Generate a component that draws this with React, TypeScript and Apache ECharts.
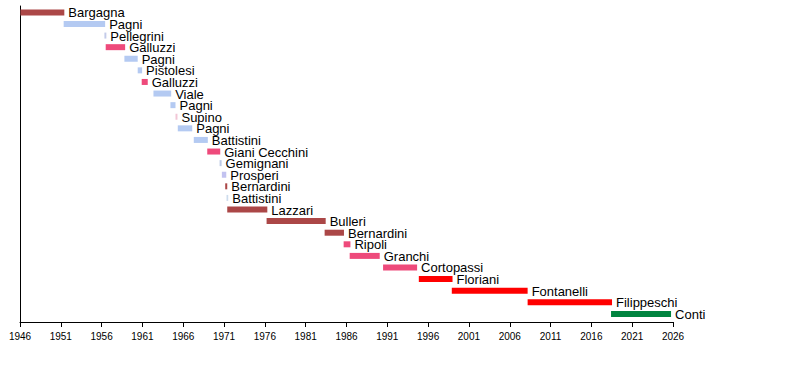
import React, { useEffect, useRef } from "react";
import * as echarts from "echarts";

// Mayors, in order (top to bottom)
const names: string[] = [
  "Bargagna", "Pagni", "Pellegrini", "Galluzzi", "Pagni", "Pistolesi", "Galluzzi",
  "Viale", "Pagni", "Supino", "Pagni", "Battistini", "Giani Cecchini", "Gemignani",
  "Prosperi", "Bernardini", "Battistini", "Lazzari", "Bulleri", "Bernardini",
  "Ripoli", "Granchi", "Cortopassi", "Floriani", "Fontanelli", "Filippeschi", "Conti",
];

// Term start / end (decimal years)
const termStart: number[] = [
  1946.05, 1951.35, 1956.34, 1956.5, 1958.79, 1960.42, 1960.91,
  1962.35, 1964.43, 1965.05, 1965.33, 1967.29, 1968.94, 1970.45,
  1970.73, 1971.14, 1971.3, 1971.39, 1976.21, 1983.32,
  1985.65, 1986.39, 1990.48, 1994.86, 1998.9, 2008.19, 2018.41,
];
const termEnd: number[] = [
  1951.43, 1956.43, 1956.58, 1958.88, 1960.42, 1960.96, 1961.65,
  1964.52, 1965.05, 1965.29, 1967.1, 1969.01, 1970.53, 1970.7,
  1971.27, 1971.39, 1971.51, 1976.3, 1983.45, 1985.69,
  1986.48, 1990.07, 1994.65, 1998.99, 2008.19, 2018.53, 2025.76,
];

// Group of each term (drives the colour)
const groups: string[] = [
  "DC", "COMM", "COMM2", "PSI", "COMM", "COMM", "PSI",
  "COMM", "COMM", "SUP", "COMM", "COMM", "PSI", "GEM",
  "PROS", "DC", "BAT", "DC", "DC", "DC",
  "PSI", "PSI", "PSI", "PDS", "PDS", "PDS", "LEGA",
];

const axisStartYear = 1946;
const axisEndYear = 2026;
const tickStep = 5;

const palette: Record<string, string> = {
  DC: "#ab4747",
  COMM: "#b4caf2",
  COMM2: "#c3cbe9",
  PSI: "#ee4a7b",
  SUP: "#f2c6d6",
  GEM: "#bccae6",
  PROS: "#c2c2f0",
  BAT: "#cddced",
  PDS: "#ff0000",
  LEGA: "#00843f",
};

export default function App() {
  const ref = useRef<HTMLDivElement>(null);

  useEffect(() => {
    if (!ref.current) return;
    const chart = echarts.init(ref.current, undefined, { renderer: "svg" });

    const data = names.map((n, i) => ({
      value: [termStart[i] - axisStartYear, termEnd[i] - axisStartYear, i],
      name: n,
      itemStyle: { color: palette[groups[i]] },
    }));

    chart.setOption({
      animation: false,
      grid: { left: 20, right: 127, top: 6, bottom: 50, containLabel: false },
      xAxis: {
        type: "value",
        position: "bottom",
        min: 0,
        max: axisEndYear - axisStartYear,
        interval: tickStep,
        axisLine: { show: true, onZero: false, lineStyle: { color: "#000", width: 1 } },
        axisTick: { show: true, length: 5, lineStyle: { color: "#000" } },
        axisLabel: {
          color: "#000",
          fontSize: 10,
          fontFamily: "Liberation Sans",
          margin: 9,
          formatter: (v: number) => String(v + axisStartYear),
        },
        splitLine: { show: false },
      },
      yAxis: {
        type: "value",
        inverse: true,
        min: -0.55,
        max: 26.7,
        axisLine: { show: true, onZero: false, lineStyle: { color: "#000", width: 1 } },
        axisTick: { show: false },
        axisLabel: { show: false },
        splitLine: { show: false },
      },
      series: [
        {
          type: "custom",
          clip: false,
          encode: { x: [0, 1], y: 2 },
          data,
          renderItem: (params: any, api: any) => {
            const i = params.dataIndex;
            const s = api.coord([api.value(0), api.value(2)]);
            const e = api.coord([api.value(1), api.value(2)]);
            const h = 6;
            return {
              type: "group",
              children: [
                {
                  type: "rect",
                  shape: { x: s[0], y: s[1] - h / 2, width: Math.max(e[0] - s[0], 1.5), height: h },
                  style: { fill: palette[groups[i]] },
                },
                {
                  type: "text",
                  x: e[0] + 4,
                  y: s[1] + 0.5,
                  style: {
                    text: names[i],
                    fill: "#000",
                    fontSize: 13,
                    fontFamily: "Liberation Sans",
                    align: "left",
                    verticalAlign: "middle",
                  },
                },
              ],
            };
          },
        },
      ],
    });

    return () => chart.dispose();
  }, []);

  return (
    <div
      ref={ref}
      style={{ position: "fixed", left: 0, top: 0, width: 800, height: 372, background: "#fff" }}
    />
  );
}
